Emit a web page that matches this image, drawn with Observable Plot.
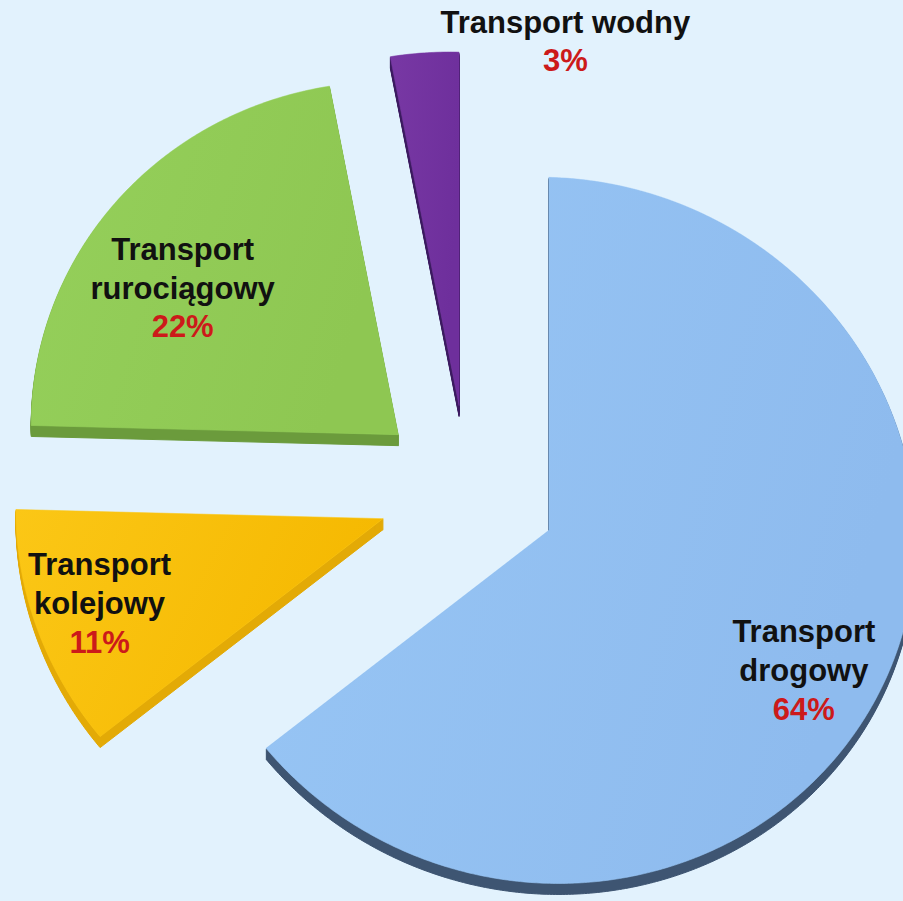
<!DOCTYPE html>
<html><head><meta charset="utf-8">
<script src="https://cdn.jsdelivr.net/npm/d3@7"></script>
<script src="https://cdn.jsdelivr.net/npm/@observablehq/plot@0.6"></script>
<style>
html,body{margin:0;padding:0;background:#e2f2fd;}
#chart{width:903px;height:901px;overflow:hidden;}
</style></head><body><div id="chart"></div>
<script>
// ---- data ----
const categories = ["Transport drogowy", "Transport kolejowy", "Transport rurociągowy", "Transport wodny"];
const shares = [64, 11, 22, 3];
const nameLines = ["Transport\ndrogowy", "Transport\nkolejowy", "Transport\nrurociągowy", "Transport wodny"];
const pctLabels = ["64%", "11%", "22%", "3%"];

// ---- style ----
const topStops = [["#98c6f5", "#8ebbee"], ["#fbc716", "#f5b800"], ["#95d05b", "#8ec752"], ["#7838a4", "#6e2f9c"]];
const sideColors = ["#3e5572", "#e3aa06", "#6b9b3c", "#3c1b60"];
const labelOutside = [false, false, false, true];
const labelNudge = [[-4, 27], [-14, 9], [5, 45], [145, 22]]; // px
const W = 903, H = 901;
const CX = 467, CY = 491, RX = 367, RY = 353; // pixel centre & radii of the tilted pie
const SHEAR = 0.025; // slight perspective tilt (px of y per px of x)
const EXPLODE = 0.245, DEPTH = 11, LABEL_R = 0.78, OUT_R = 1.12;
const FS = 31, LH = 1.25;

const total = d3.sum(shares);
const proj = (u, v) => ({x: u, y: v + SHEAR * RX / RY * u});
const slices = [];
const labels = [];
let cum = 0;
categories.forEach((c, i) => {
  const a0 = cum / total * 2 * Math.PI;
  cum += shares[i];
  const a1 = cum / total * 2 * Math.PI;
  const mid = (a0 + a1) / 2;
  const ax = EXPLODE * Math.sin(mid), ay = -EXPLODE * Math.cos(mid);
  const pts = [proj(ax, ay)];
  const n = Math.max(4, Math.ceil((a1 - a0) / (Math.PI / 360)));
  for (let j = 0; j <= n; j++) {
    const t = a0 + (a1 - a0) * j / n;
    pts.push(proj(ax + Math.sin(t), ay - Math.cos(t)));
  }
  pts.push(proj(ax, ay));
  const side = [];
  for (let k = 1; k <= DEPTH; k++) pts.forEach(p => side.push({x: p.x, y: p.y + k / RY, k}));
  slices.push({category: c, i, pts, side});
  const r = labelOutside[i] ? OUT_R : LABEL_R;
  const lp = proj(ax + r * Math.sin(mid), ay - r * Math.cos(mid));
  labels.push({
    category: c,
    name: nameLines[i],
    pct: pctLabels[i],
    x: lp.x + labelNudge[i][0] / RX,
    y: lp.y + labelNudge[i][1] / RY
  });
});

const marks = [];
// paint back (top of picture) to front
[3, 2, 1, 0].forEach(i => {
  const s = slices[i];
  marks.push(Plot.line(s.side, {x: "x", y: "y", z: "k", fill: sideColors[i], stroke: sideColors[i], strokeWidth: 1, curve: "linear"}));
  marks.push(Plot.line(s.pts, {x: "x", y: "y", fill: `url(#g${i})`, stroke: topStops[i][0], strokeWidth: 0.6, curve: "linear"}));
});
const font = "'Liberation Sans', Arial, sans-serif";
marks.push(Plot.text(labels, {x: "x", y: "y", text: "name", fill: "#111", fontFamily: font, fontWeight: "bold", fontSize: FS, lineAnchor: "bottom", lineHeight: LH, textAnchor: "middle"}));
marks.push(Plot.text(labels, {x: "x", y: "y", text: "pct", fill: "#cc1a1a", fontFamily: font, fontWeight: "bold", fontSize: FS, lineAnchor: "bottom", dy: FS * LH, textAnchor: "middle"}));

const svg = Plot.plot({
  width: W, height: H,
  margin: 0,
  x: {domain: [-CX / RX, (W - CX) / RX], range: [0, W], axis: null},
  y: {domain: [-CY / RY, (H - CY) / RY], range: [0, H], axis: null},
  style: {background: "#e2f2fd", overflow: "hidden"},
  marks
});
const defs = d3.select(svg).insert("defs", ":first-child");
topStops.forEach((st, i) => {
  const g = defs.append("linearGradient").attr("id", `g${i}`).attr("x1", "0").attr("y1", "0").attr("x2", "1").attr("y2", "0.3");
  g.append("stop").attr("offset", "0").attr("stop-color", st[0]);
  g.append("stop").attr("offset", "1").attr("stop-color", st[1]);
});
document.getElementById("chart").appendChild(svg);
</script></body></html>
